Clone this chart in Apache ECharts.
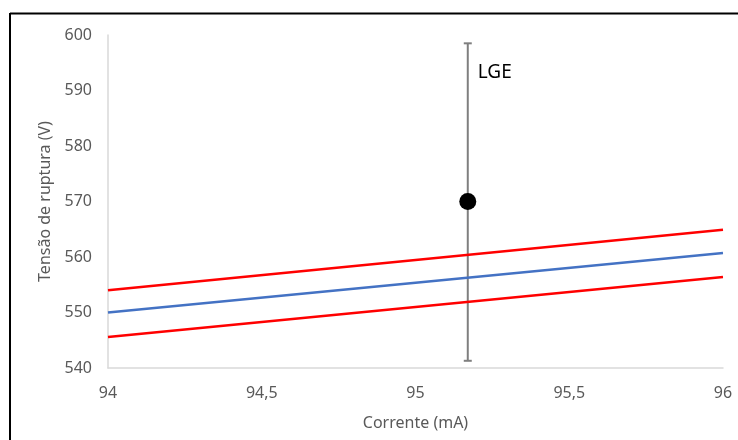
<!DOCTYPE html>
<html>
<head>
<meta charset="utf-8">
<script src="https://cdn.jsdelivr.net/npm/echarts@6/dist/echarts.min.js"></script>
<style>
html,body{margin:0;padding:0;background:#fff;}
#c{width:738px;height:440px;}
</style>
</head>
<body>
<div id="c"></div>
<script>
// Data
const xEnds = [94, 96];
const centralLine = [550.0, 560.7];
const upperLimit = [554.0, 564.9];
const lowerLimit = [545.6, 556.4];
const pointName = ['LGE'];
const pointX = [95.17];
const pointY = [570];
const errLow = [541.3];
const errHigh = [598.5];
const xTicks = ['94', '94,5', '95', '95,5', '96'];

const chart = echarts.init(document.getElementById('c'), null, {renderer: 'canvas'});
const font = 'Noto Sans';
const labelColor = '#595959';

const lineData = arr => xEnds.map((x, i) => [x, arr[i]]);

const option = {
  animation: false,
  backgroundColor: '#fff',
  grid: {left: 108, right: 15, top: 35, bottom: 72},
  graphic: [
    {type: 'line', shape: {x1: 10, y1: 13.5, x2: 738, y2: 13.5}, style: {stroke: '#000', lineWidth: 2}, z: 100},
    {type: 'line', shape: {x1: 10, y1: 13, x2: 10, y2: 440}, style: {stroke: '#000', lineWidth: 2}, z: 100}
  ],
  xAxis: {
    type: 'value', min: 94, max: 96, interval: 0.5,
    name: 'Corrente (mA)', nameLocation: 'middle', nameGap: 47,
    nameTextStyle: {fontFamily: font, fontSize: 16, color: labelColor},
    axisLine: {show: true, lineStyle: {color: '#d9d9d9', width: 1.5}},
    axisTick: {show: false},
    splitLine: {show: false},
    axisLabel: {
      fontFamily: font, fontSize: 16, color: labelColor, margin: 17,
      formatter: v => xTicks[Math.round((v - 94) / 0.5)]
    }
  },
  yAxis: {
    type: 'value', min: 540, max: 600, interval: 10,
    name: 'Tensão de ruptura (V)', nameLocation: 'middle', nameGap: 55,
    nameTextStyle: {fontFamily: font, fontSize: 16, color: labelColor},
    axisLine: {show: true, lineStyle: {color: '#d9d9d9', width: 1.5}},
    axisTick: {show: false},
    splitLine: {show: false},
    axisLabel: {fontFamily: font, fontSize: 16, color: labelColor, margin: 16}
  },
  series: [
    {type: 'line', data: lineData(upperLimit), symbol: 'none', lineStyle: {color: '#ff0000', width: 2.5}},
    {type: 'line', data: lineData(centralLine), symbol: 'none', lineStyle: {color: '#4472c4', width: 2.5}},
    {type: 'line', data: lineData(lowerLimit), symbol: 'none', lineStyle: {color: '#ff0000', width: 2.5}},
    {
      type: 'custom',
      data: pointX.map((x, i) => [x, errLow[i], errHigh[i], i]),
      renderItem: (params, api) => {
        const x = api.value(0);
        const lo = api.coord([x, api.value(1)]);
        const hi = api.coord([x, api.value(2)]);
        const cap = 4;
        const st = {stroke: '#7f7f7f', lineWidth: 2};
        return {
          type: 'group',
          children: [
            {type: 'line', shape: {x1: lo[0], y1: lo[1], x2: hi[0], y2: hi[1]}, style: st},
            {type: 'line', shape: {x1: lo[0] - cap, y1: lo[1], x2: lo[0] + cap, y2: lo[1]}, style: st},
            {type: 'line', shape: {x1: hi[0] - cap, y1: hi[1], x2: hi[0] + cap, y2: hi[1]}, style: st},
            {type: 'text', x: hi[0] + 10, y: hi[1] + 29,
              style: {text: pointName[api.value(3)], fill: '#000', font: '19px "Noto Sans"', verticalAlign: 'middle', align: 'left'}}
          ]
        };
      },
      z: 3
    },
    {
      type: 'scatter',
      data: pointX.map((x, i) => [x, pointY[i]]),
      symbol: 'circle', symbolSize: 17,
      itemStyle: {color: '#000', opacity: 1},
      z: 5
    }
  ]
};
chart.setOption(option);
</script>
</body>
</html>
